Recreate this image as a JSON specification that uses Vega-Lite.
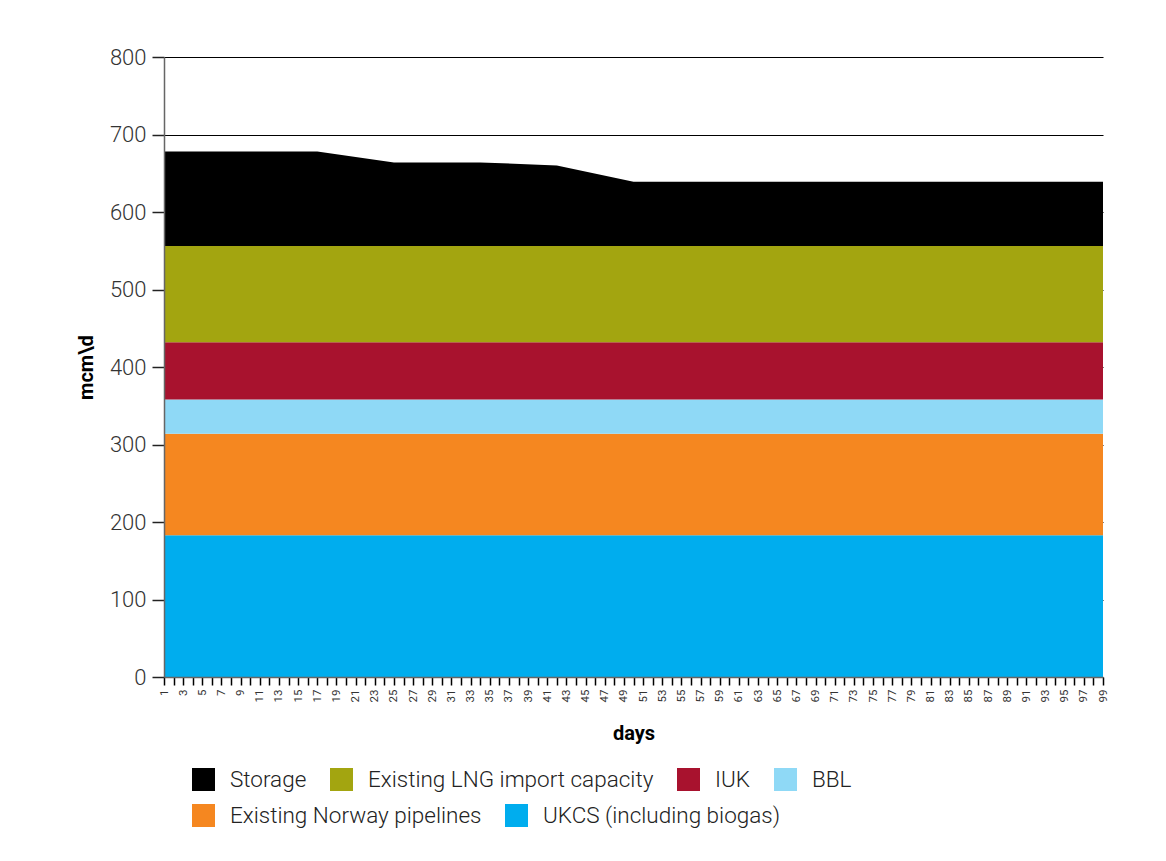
{
  "$schema": "https://vega.github.io/schema/vega-lite/v6.json",
  "width": 939,
  "height": 620,
  "autosize": {"type": "none"},
  "padding": {"left": 164, "top": 57, "right": 63, "bottom": 184},
  "background": "white",
  "config": {
    "view": {"stroke": null},
    "font": "Roboto",
    "axis": {"labelFont": "Roboto", "titleFont": "Roboto"},
    "legend": {
      "labelFont": "Roboto",
      "title": null,
      "orient": "none",
      "direction": "horizontal",
      "symbolType": "square",
      "symbolSize": 529,
      "symbolStrokeWidth": 0,
      "symbolOpacity": 1,
      "labelFontSize": 22.5,
      "labelFontWeight": 300,
      "labelColor": "#222222",
      "labelOffset": 15,
      "columnPadding": 23,
      "labelLimit": 400
    }
  },
  "data": {
    "values": [
      {"day": 1, "source": "UKCS (including biogas)", "mcmd": 183},
      {"day": 17, "source": "UKCS (including biogas)", "mcmd": 183},
      {"day": 25, "source": "UKCS (including biogas)", "mcmd": 183},
      {"day": 34, "source": "UKCS (including biogas)", "mcmd": 183},
      {"day": 42, "source": "UKCS (including biogas)", "mcmd": 183},
      {"day": 50, "source": "UKCS (including biogas)", "mcmd": 183},
      {"day": 99, "source": "UKCS (including biogas)", "mcmd": 183},
      {"day": 1, "source": "Existing Norway pipelines", "mcmd": 131},
      {"day": 17, "source": "Existing Norway pipelines", "mcmd": 131},
      {"day": 25, "source": "Existing Norway pipelines", "mcmd": 131},
      {"day": 34, "source": "Existing Norway pipelines", "mcmd": 131},
      {"day": 42, "source": "Existing Norway pipelines", "mcmd": 131},
      {"day": 50, "source": "Existing Norway pipelines", "mcmd": 131},
      {"day": 99, "source": "Existing Norway pipelines", "mcmd": 131},
      {"day": 1, "source": "BBL", "mcmd": 44},
      {"day": 17, "source": "BBL", "mcmd": 44},
      {"day": 25, "source": "BBL", "mcmd": 44},
      {"day": 34, "source": "BBL", "mcmd": 44},
      {"day": 42, "source": "BBL", "mcmd": 44},
      {"day": 50, "source": "BBL", "mcmd": 44},
      {"day": 99, "source": "BBL", "mcmd": 44},
      {"day": 1, "source": "IUK", "mcmd": 74},
      {"day": 17, "source": "IUK", "mcmd": 74},
      {"day": 25, "source": "IUK", "mcmd": 74},
      {"day": 34, "source": "IUK", "mcmd": 74},
      {"day": 42, "source": "IUK", "mcmd": 74},
      {"day": 50, "source": "IUK", "mcmd": 74},
      {"day": 99, "source": "IUK", "mcmd": 74},
      {"day": 1, "source": "Existing LNG import capacity", "mcmd": 124},
      {"day": 17, "source": "Existing LNG import capacity", "mcmd": 124},
      {"day": 25, "source": "Existing LNG import capacity", "mcmd": 124},
      {"day": 34, "source": "Existing LNG import capacity", "mcmd": 124},
      {"day": 42, "source": "Existing LNG import capacity", "mcmd": 124},
      {"day": 50, "source": "Existing LNG import capacity", "mcmd": 124},
      {"day": 99, "source": "Existing LNG import capacity", "mcmd": 124},
      {"day": 1, "source": "Storage", "mcmd": 122},
      {"day": 17, "source": "Storage", "mcmd": 122},
      {"day": 25, "source": "Storage", "mcmd": 108},
      {"day": 34, "source": "Storage", "mcmd": 108},
      {"day": 42, "source": "Storage", "mcmd": 104},
      {"day": 50, "source": "Storage", "mcmd": 83},
      {"day": 99, "source": "Storage", "mcmd": 83}
    ]
  },
  "transform": [
    {
      "calculate": "indexof(['UKCS (including biogas)', 'Existing Norway pipelines', 'BBL', 'IUK', 'Existing LNG import capacity', 'Storage'], datum.source)",
      "as": "stackOrder"
    }
  ],
  "layer": [
    {
      "mark": {"type": "area", "interpolate": "linear"},
      "encoding": {
        "x": {
          "field": "day",
          "type": "quantitative",
          "scale": {"domain": [1, 99], "nice": false, "zero": false},
          "axis": {
            "title": "days",
            "titleFontSize": 20,
            "titleFontWeight": "bold",
            "titleColor": "#000000",
            "titlePadding": 22,
            "values": [1,2,3,4,5,6,7,8,9,10,11,12,13,14,15,16,17,18,19,20,21,22,23,24,25,26,27,28,29,30,31,32,33,34,35,36,37,38,39,40,41,42,43,44,45,46,47,48,49,50,51,52,53,54,55,56,57,58,59,60,61,62,63,64,65,66,67,68,69,70,71,72,73,74,75,76,77,78,79,80,81,82,83,84,85,86,87,88,89,90,91,92,93,94,95,96,97,98,99],
            "labelExpr": "datum.value % 2 === 1 ? datum.label : ''",
            "labelAngle": 270,
            "labelFontSize": 11.5,
            "labelColor": "#333333",
            "labelPadding": 4,
            "labelOverlap": false,
            "labelBound": false,
            "labelFlush": false,
            "tickSize": 8,
            "tickColor": "#000000",
            "tickWidth": 1.5,
            "domainColor": "#666666",
            "domainWidth": 1.5,
            "grid": false,
            "zindex": 1
          }
        },
        "y": {
          "field": "mcmd",
          "type": "quantitative",
          "stack": "zero",
          "scale": {"domain": [0, 800], "nice": false},
          "axis": {
            "values": [0, 100, 200, 300, 400, 500, 600, 700, 800],
            "grid": true,
            "gridColor": "#000000",
            "gridWidth": 1.2,
            "gridOpacity": 1,
            "domain": false,
            "ticks": false,
            "labels": false,
            "title": null,
            "zindex": 0
          }
        },
        "color": {
          "field": "source",
          "type": "nominal",
          "scale": {
            "domain": ["Storage", "Existing LNG import capacity", "IUK", "BBL", "Existing Norway pipelines", "UKCS (including biogas)"],
            "range": ["#000000", "#a3a510", "#a8122e", "#8fd9f6", "#f58720", "#00adee"]
          },
          "legend": {
            "values": ["Storage", "Existing LNG import capacity", "IUK", "BBL"],
            "legendX": 28,
            "legendY": 711
          }
        },
        "order": {"field": "stackOrder", "type": "quantitative"}
      }
    },
    {
      "mark": {"type": "point", "filled": true, "opacity": 0},
      "encoding": {
        "y": {
          "field": "mcmd",
          "type": "quantitative",
          "axis": {
            "orient": "left",
            "values": [0, 100, 200, 300, 400, 500, 600, 700, 800],
            "grid": false,
            "title": "mcm\\d",
            "titleFontSize": 20,
            "titleFontWeight": "bold",
            "titleColor": "#000000",
            "titlePadding": 13,
            "labelFontSize": 22,
            "labelFontWeight": 300,
            "labelColor": "#333333",
            "labelPadding": 6,
            "tickSize": 12,
            "tickColor": "#222222",
            "tickWidth": 1.5,
            "domainColor": "#666666",
            "domainWidth": 1.5,
            "zindex": 1
          }
        },
        "fill": {
          "field": "source",
          "type": "nominal",
          "scale": {
            "domain": ["Existing Norway pipelines", "UKCS (including biogas)"],
            "range": ["#f58720", "#00adee"]
          },
          "legend": {
            "legendX": 28,
            "legendY": 747
          }
        }
      }
    }
  ],
  "resolve": {"axis": {"y": "independent"}}
}
